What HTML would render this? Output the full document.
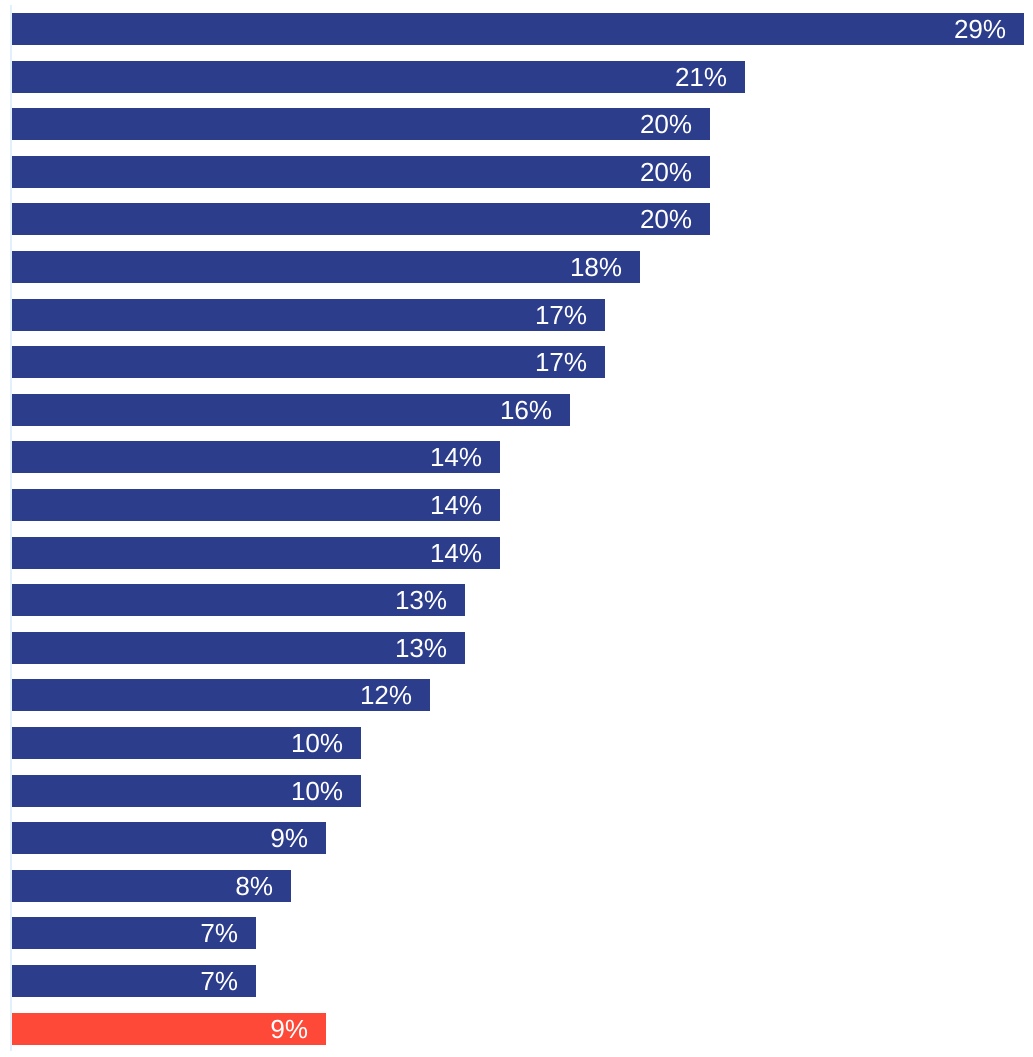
<!DOCTYPE html>
<html><head><meta charset="utf-8"><style>
html,body{margin:0;padding:0;background:#fff;}
body{width:1033px;height:1057px;position:relative;overflow:hidden;font-family:"Liberation Sans",Arial,sans-serif;}
.axis{position:absolute;left:10px;top:5px;width:2px;height:1046px;background:#e2f0fb;}
.bar{position:absolute;left:12px;height:32px;background:#2c3d8b;}
.bar.red{background:#fe4838;}
.bar span{position:absolute;right:18px;top:0;line-height:32px;font-size:26px;color:#fff;}
</style></head><body>
<div class="axis"></div>
<div class="bar" style="top:13px;width:1012px"><span>29%</span></div>
<div class="bar" style="top:61px;width:733px"><span>21%</span></div>
<div class="bar" style="top:108px;width:698px"><span>20%</span></div>
<div class="bar" style="top:156px;width:698px"><span>20%</span></div>
<div class="bar" style="top:203px;width:698px"><span>20%</span></div>
<div class="bar" style="top:251px;width:628px"><span>18%</span></div>
<div class="bar" style="top:299px;width:593px"><span>17%</span></div>
<div class="bar" style="top:346px;width:593px"><span>17%</span></div>
<div class="bar" style="top:394px;width:558px"><span>16%</span></div>
<div class="bar" style="top:441px;width:488px"><span>14%</span></div>
<div class="bar" style="top:489px;width:488px"><span>14%</span></div>
<div class="bar" style="top:537px;width:488px"><span>14%</span></div>
<div class="bar" style="top:584px;width:453px"><span>13%</span></div>
<div class="bar" style="top:632px;width:453px"><span>13%</span></div>
<div class="bar" style="top:679px;width:418px"><span>12%</span></div>
<div class="bar" style="top:727px;width:349px"><span>10%</span></div>
<div class="bar" style="top:775px;width:349px"><span>10%</span></div>
<div class="bar" style="top:822px;width:314px"><span>9%</span></div>
<div class="bar" style="top:870px;width:279px"><span>8%</span></div>
<div class="bar" style="top:917px;width:244px"><span>7%</span></div>
<div class="bar" style="top:965px;width:244px"><span>7%</span></div>
<div class="bar red" style="top:1013px;width:314px"><span>9%</span></div>
</body></html>
